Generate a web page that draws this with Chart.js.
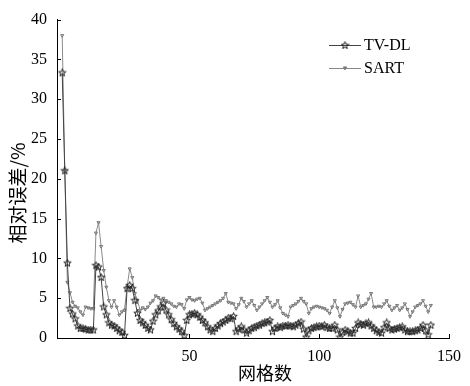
<!DOCTYPE html>
<html>
<head>
<meta charset="utf-8">
<script src="https://cdn.jsdelivr.net/npm/chart.js@4.4.1/dist/chart.umd.min.js"></script>
<style>
  html, body { margin: 0; padding: 0; background: #fff; }
  #wrap { width: 470px; height: 386px; position: relative; }
</style>
</head>
<body>
<div id="wrap"><canvas id="errChart"></canvas></div>
<script>
// relative error (%) per grid count (x = 1, 2, 3, ...)
const tvdl = [
  33.3, 21.0, 9.4, 3.7, 3.0, 2.4, 1.5, 1.2, 1.2, 1.1,
  1.0, 1.0, 1.0, 9.1, 8.9, 7.6, 3.9, 2.9, 1.9, 1.6,
  1.5, 1.2, 0.9, 0.7, 0.3, 6.2, 6.6, 6.2, 4.7, 3.1,
  2.2, 1.9, 1.6, 1.2, 1.0, 2.1, 2.9, 3.4, 3.9, 4.3,
  3.5, 2.9, 2.3, 1.8, 1.4, 1.1, 0.8, 0.3, 2.2, 2.9,
  3.0, 3.1, 2.9, 2.6, 2.2, 1.9, 1.4, 1.0, 0.8, 1.2,
  1.5, 1.8, 2.0, 2.2, 2.5, 2.4, 2.7, 0.8, 1.1, 1.4,
  1.0, 0.6, 0.9, 1.2, 1.3, 1.5, 1.6, 1.8, 1.9, 2.0,
  2.2, 0.8, 1.2, 1.4, 1.3, 1.5, 1.5, 1.6, 1.5, 1.4,
  1.6, 1.8, 2.0, 1.1, 0.1, 0.9, 1.2, 1.3, 1.4, 1.5,
  1.4, 1.6, 1.3, 1.2, 1.2, 1.6, 1.0, 0.1, 0.7, 1.0,
  0.8, 0.6, 0.6, 1.2, 1.9, 1.7, 1.6, 1.8, 1.9, 1.5,
  1.2, 0.9, 0.7, 0.6, 1.3, 1.9, 1.2, 1.0, 1.1, 1.2,
  1.3, 1.4, 1.0, 0.8, 0.8, 0.8, 0.9, 1.0, 1.2, 1.6,
  0.9, 0.4, 1.6
];
const sart = [
  38.0, 21.0, 7.0, 5.7, 4.5, 4.0, 3.8, 3.3, 2.9, 3.9,
  3.8, 3.7, 3.7, 13.2, 14.5, 11.5, 8.5, 6.4, 4.7, 3.9,
  4.7, 3.9, 2.9, 3.3, 3.5, 6.4, 8.7, 7.6, 5.6, 4.7,
  3.5, 3.8, 3.6, 3.9, 4.4, 4.7, 5.3, 5.1, 4.8, 5.0,
  4.7, 4.5, 4.3, 4.0, 3.9, 4.3, 4.2, 3.7, 4.8, 5.1,
  4.8, 4.7, 4.9, 5.0, 4.4, 3.5, 3.7, 3.9, 4.1, 4.3,
  4.5, 4.7, 5.0, 5.6, 4.5, 4.4, 4.3, 3.7, 4.2, 5.0,
  4.6, 3.9, 4.3, 4.7, 4.1, 3.5, 3.9, 4.3, 4.7, 5.1,
  4.5, 3.9, 4.2, 4.7, 3.8, 3.1, 2.9, 2.7, 3.9, 4.1,
  4.3, 4.6, 5.0, 4.6, 4.3, 3.1, 3.7, 3.9, 4.0, 3.9,
  3.8, 3.7, 3.5, 3.1, 3.9, 4.7, 3.8, 2.7, 3.6, 4.3,
  4.4, 4.5, 4.2, 3.9, 5.3, 3.9, 4.1, 4.3, 4.9, 5.6,
  3.9, 3.9, 4.0, 3.9, 4.3, 4.7, 4.0, 3.5, 3.8, 4.1,
  3.5, 3.8, 4.3, 3.6, 2.7, 3.3, 3.9, 4.1, 4.3, 4.7,
  4.0, 3.3, 4.1
];
const seriesNames = ["TV-DL", "SART"];
const xTicks = [50, 100, 150];
const yTicks = [0, 5, 10, 15, 20, 25, 30, 35, 40];
const xTitle = "网格数";
const yTitle = "相对误差/%";

const serif = "'Liberation Serif', 'Times New Roman', serif";
const cjk = "'Noto Sans CJK SC', sans-serif";

function toPoints(arr) {
  return arr.map((v, i) => ({ x: i + 1, y: v }));
}

// five-pointed open star marker
function makeStar(size, color) {
  const c = document.createElement("canvas");
  c.width = size;
  c.height = size;
  const g = c.getContext("2d");
  const cx = size / 2, cy = size / 2;
  const ro = size / 2 - 0.6, ri = ro * 0.42;
  g.beginPath();
  for (let i = 0; i < 10; i++) {
    const r = i % 2 === 0 ? ro : ri;
    const a = -Math.PI / 2 + (i * Math.PI) / 5;
    const px = cx + r * Math.cos(a), py = cy + r * Math.sin(a);
    if (i === 0) g.moveTo(px, py);
    else g.lineTo(px, py);
  }
  g.closePath();
  g.strokeStyle = color;
  g.lineWidth = 1;
  g.stroke();
  return c;
}
const starImg = makeStar(9, "#222");

// small inward ticks and axis titles
const axisDeco = {
  id: "axisDeco",
  afterDraw(chart) {
    const ctx = chart.ctx;
    const xs = chart.scales.x;
    const ys = chart.scales.y;
    const area = chart.chartArea;
    ctx.save();
    ctx.strokeStyle = "#000";
    ctx.lineWidth = 1;
    ctx.beginPath();
    yTicks.forEach((v) => {
      const y = Math.round(ys.getPixelForValue(v)) + 0.5;
      ctx.moveTo(area.left, y);
      ctx.lineTo(area.left + 4, y);
    });
    xTicks.forEach((v) => {
      const x = Math.round(xs.getPixelForValue(v)) + 0.5;
      ctx.moveTo(x, area.bottom);
      ctx.lineTo(x, area.bottom - 4);
    });
    ctx.stroke();

    ctx.fillStyle = "#000";
    ctx.textAlign = "center";
    ctx.textBaseline = "middle";
    ctx.font = "18px " + cjk;
    ctx.fillText(xTitle, 265, 373);
    ctx.translate(18, 193);
    ctx.rotate(-Math.PI / 2);
    ctx.font = "19px " + cjk;
    ctx.fillText(yTitle, 0, 0);
    ctx.restore();
  },
};

// legend drawn like the plot's line samples
const lineLegend = {
  id: "lineLegend",
  afterDraw(chart) {
    const ctx = chart.ctx;
    const items = [
      { y: 45, color: "#444" },
      { y: 68, color: "#888" },
    ];
    ctx.save();
    items.forEach((it, i) => {
      ctx.strokeStyle = it.color;
      ctx.lineWidth = 1;
      ctx.beginPath();
      ctx.moveTo(329, it.y + 0.5);
      ctx.lineTo(361, it.y + 0.5);
      ctx.stroke();
      if (i === 0) {
        ctx.drawImage(starImg, 345 - 4.5, it.y - 4);
      } else {
        Chart.helpers.drawPoint(ctx, {
          pointStyle: "triangle",
          radius: 1.8,
          rotation: 180,
          borderWidth: 1,
        }, 345, it.y);
        ctx.stroke();
      }
      ctx.fillStyle = "#000";
      ctx.font = "16px " + serif;
      ctx.textAlign = "left";
      ctx.textBaseline = "middle";
      ctx.fillText(seriesNames[i], 364, it.y + 1);
    });
    ctx.restore();
  },
};

const ctx = document.getElementById("errChart");
new Chart(ctx, {
  type: "line",
  data: {
    datasets: [
      {
        label: seriesNames[0],
        data: toPoints(tvdl),
        borderColor: "#444",
        borderWidth: 1,
        pointStyle: starImg,
        pointRadius: 4,
        tension: 0,
      },
      {
        label: seriesNames[1],
        data: toPoints(sart),
        borderColor: "#8a8a8a",
        borderWidth: 1,
        pointStyle: "triangle",
        rotation: 180,
        pointRadius: 1.8,
        pointBorderColor: "#777",
        pointBorderWidth: 1,
        pointBackgroundColor: "transparent",
        tension: 0,
      },
    ],
  },
  options: {
    responsive: true,
    maintainAspectRatio: false,
    animation: false,
    layout: { padding: { top: 17, right: 15, left: 0, bottom: 0 } },
    plugins: {
      legend: { display: false },
      tooltip: { enabled: false },
    },
    scales: {
      x: {
        type: "linear",
        min: -1,
        max: 150,
        afterBuildTicks: (scale) => {
          scale.ticks = xTicks.map((v) => ({ value: v }));
        },
        afterFit: (scale) => {
          scale.height = 48;
        },
        grid: { display: false, drawTicks: false },
        border: { display: true, color: "#000", width: 1 },
        ticks: {
          color: "#000",
          padding: 9,
          maxRotation: 0,
          font: { family: serif, size: 16 },
        },
      },
      y: {
        min: 0,
        max: 40,
        afterBuildTicks: (scale) => {
          scale.ticks = yTicks.map((v) => ({ value: v }));
        },
        afterFit: (scale) => {
          scale.width = 57;
        },
        grid: { display: false, drawTicks: false },
        border: { display: true, color: "#000", width: 1 },
        ticks: {
          color: "#000",
          padding: 10,
          font: { family: serif, size: 16 },
        },
      },
    },
  },
  plugins: [axisDeco, lineLegend],
});
</script>
</body>
</html>
